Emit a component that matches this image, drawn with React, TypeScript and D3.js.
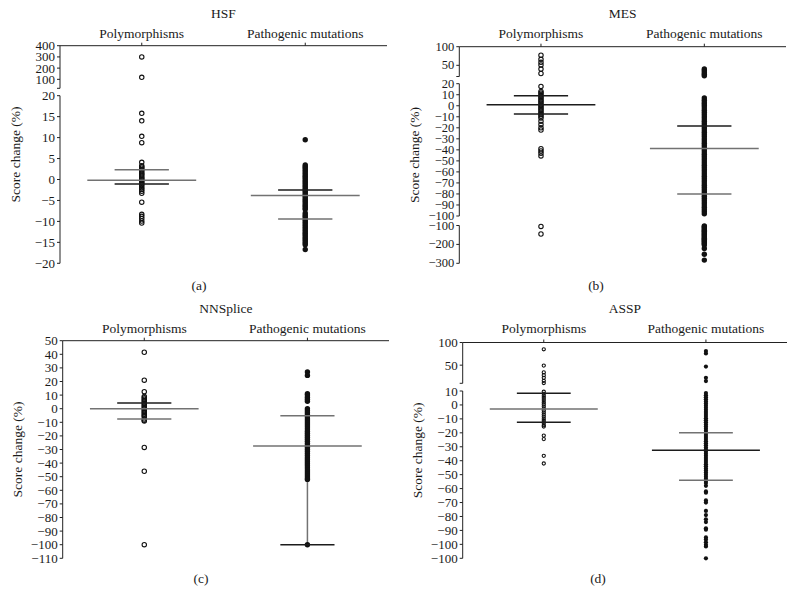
import React from 'react';
import * as d3 from 'd3';

// ---------- data ----------
const categories = ['Polymorphisms', 'Pathogenic mutations'];
const panelTitles = ['HSF', 'MES', 'NNSplice', 'ASSP'];
const panelLetters = ['(a)', '(b)', '(c)', '(d)'];
const yTitle = 'Score change (%)';

// HSF
const hsfPoly = [300, 118, 15.8, 14.0, 10.3, 8.8, 4.1, 3.3, 3.0, 2.7, 2.3, 2.0, 1.6, 1.3, 1.0, 0.6, 0.3, 0.0, -0.3, -0.6, -0.9, -1.2, -1.6, -2.0, -2.4, -2.8, -3.3, -5.4, -8.3, -8.8, -9.3, -9.9, -10.4];
const hsfPatho = [9.5, 3.5, 3.1, 2.8, 2.4, 2.0, 1.6, 1.2, 0.8, 0.4, 0.0, -0.4, -0.8, -1.2, -1.6, -2.0, -2.4, -2.8, -3.2, -3.6, -4.0, -4.4, -4.8, -5.2, -5.6, -6.0, -6.4, -6.8, -7.1, -8.0, -8.4, -8.8, -9.2, -9.6, -10.0, -10.4, -10.8, -11.2, -11.6, -12.0, -12.4, -12.8, -13.2, -13.6, -14.0, -14.4, -14.8, -15.2, -15.6, -16.7];
const hsfMean = [-0.2, -3.8];
const hsfUpper = [2.3, -2.5];
const hsfLower = [-1.1, -9.4];
const hsfSegments = [[20, 400], [-20, 20]];
const hsfTicks = [[400, 300, 200, 100], [20, 15, 10, 5, 0, -5, -10, -15, -20]];

// MES
const mesPoly = [77, 66, 58, 51, 40, 28, 17.5, 13, 11.5, 10, 8.5, 7, 5.5, 4, 2.5, 1, -0.5, -2, -3.5, -5, -6.5, -8, -9.5, -11, -14, -17, -20, -22, -39, -41, -43, -45.5, -105, -145];
const mesPatho = [40, 36, 31, 26, 22,
  7, 5, 3, 1.5, 0, -2, -4, -6, -8, -10, -12, -14, -16, -18, -20, -22, -24, -26, -28, -30, -32, -34, -36, -38, -40, -42, -44, -46, -48, -50, -52, -54, -56, -58, -60, -62, -64, -66, -68, -70, -72, -74, -76, -78, -80, -82, -84, -86, -88, -90, -92, -94, -96, -98,
  -102, -107, -113, -119, -125, -131, -137, -143, -149, -155, -161, -167, -173, -179, -185, -191, -197, -203, -222, -252, -283];
const mesMean = [1, -38.7];
const mesUpper = [9, -18.4];
const mesLower = [-7.5, -80];
const mesSegments = [[20, 100], [-100, 20], [-300, -100]];
const mesTicks = [[100, 50], [20, 10, 0, -10, -20, -30, -40, -50, -60, -70, -80, -90, -100], [-100, -200, -300]];

// NNSplice
const nnPoly = [41.5, 21, 12.5, 9, 8, 7, 6, 5, 4, 3, 2, 1, 0, -1, -2, -3, -4, -5, -6, -7.5, -8.5, -9, -28.5, -46, -100];
const nnPatho = [27, 24.5, 11, 10, 8.5, 7, 5.5, 0, -1.5, -3, -4.5, -6, -7.5, -9, -10.5, -12, -13.5, -15, -16.5, -18, -19.5, -21, -22.5, -24, -25.5, -27, -28.5, -30, -31.5, -33, -34.5, -36, -37.5, -39, -40.5, -42, -43.5, -45, -46.5, -48, -49.5, -51, -52, -100];
const nnMean = [0, -27.4];
const nnUpper = [4.2, -5.1];
const nnLower = [-7.5, -100];
const nnWhisker = [-52, -100];
const nnSegments = [[-110, 50]];
const nnTicks = [[50, 40, 30, 20, 10, 0, -10, -20, -30, -40, -50, -60, -70, -80, -90, -100, -110]];

// ASSP
const asspPoly = [85, 49, 34, 28, 22, 15.5, 10.5, 9.5, 8, 6.5, 5, 3.5, 2, 0.5, -1, -2.5, -4, -5.5, -7, -8.5, -10, -11.5, -13, -14.5, -15.5, -22, -24.5, -36.5, -42];
const asspPatho = [81, 76, 47, 22, 15,
  8.5, 7, 5.5, 4, 2.5, 1, -0.5, -2, -3.5, -5, -6.5, -8, -9.5, -11, -12.5, -14, -15.5, -17, -18.5, -20, -21.5, -23, -24.5, -26, -27.5, -29, -30.5, -32, -33.5, -35, -36.5, -38, -39.5, -41, -42.5, -44, -45.5, -47, -48.5, -50, -51.5, -53, -54.5, -56, -58,
  -62, -63, -68.5, -70, -76, -79, -82, -84, -88.5, -89.5, -95, -96.5, -98.5, -100.3, -101.5, -110];
const asspMean = [-2.9, -32.5];
const asspUpper = [8.4, -20];
const asspLower = [-12.5, -54];
const asspSegments = [[10, 100], [-110, 10]];
const asspTicks = [[100, 50], [10, 0, -10, -20, -30, -40, -50, -60, -70, -80, -90, -100, -110]];
const asspTickLabels = [['100', '50'], ['10', '0', '−10', '−20', '−30', '−40', '−50', '−60', '−70', '−80', '−90', '−100', '−100']];

// ---------- layout / style ----------
const FONT = '"Liberation Serif", "DejaVu Serif", serif';
const G = '#727272';
const K = '#1c1c1c';

const fmt = (v: number) => (v < 0 ? '−' + Math.abs(v) : String(v));

type Panel = {
  title: string; letter: string;
  axisX: number; xEnd: number;
  segRanges: number[][]; segDomains: number[][]; ticks: number[][]; tickLabels?: string[][];
  titleY: number; catY: number; letterX: number; letterY: number;
  poly: number[]; patho: number[]; mean: number[]; upper: number[]; lower: number[];
  whisker?: number[];
  polyR: number; pathoR: number; tickFont: number;
  colors: string[][];
};

const panels: Panel[] = [
  {
    title: panelTitles[0], letter: panelLetters[0], axisX: 60, xEnd: 387,
    segRanges: [[88.3, 45.7], [263.3, 95.7]], segDomains: hsfSegments, ticks: hsfTicks,
    titleY: 13.5, catY: 33.5, letterX: 199, letterY: 285.5,
    poly: hsfPoly, patho: hsfPatho, mean: hsfMean, upper: hsfUpper, lower: hsfLower,
    polyR: 2.2, pathoR: 2.7, tickFont: 13, colors: [[G, G, K], [G, K, G]],
  },
  {
    title: panelTitles[1], letter: panelLetters[1], axisX: 459.3, xEnd: 786,
    segRanges: [[76.5, 46.7], [216, 83.7], [263.3, 225.5]], segDomains: mesSegments, ticks: mesTicks,
    titleY: 13.5, catY: 33.5, letterX: 596, letterY: 285.5,
    poly: mesPoly, patho: mesPatho, mean: mesMean, upper: mesUpper, lower: mesLower,
    polyR: 2.2, pathoR: 2.7, tickFont: 12.5, colors: [[K, K, K], [G, K, G]],
  },
  {
    title: panelTitles[2], letter: panelLetters[2], axisX: 62.7, xEnd: 389,
    segRanges: [[558.3, 340.7]], segDomains: nnSegments, ticks: nnTicks,
    titleY: 308.5, catY: 328.5, letterX: 201, letterY: 578.5,
    poly: nnPoly, patho: nnPatho, mean: nnMean, upper: nnUpper, lower: nnLower, whisker: nnWhisker,
    polyR: 2.2, pathoR: 2.7, tickFont: 13, colors: [[G, K, G], [G, G, K]],
  },
  {
    title: panelTitles[3], letter: panelLetters[3], axisX: 462.7, xEnd: 787,
    segRanges: [[383.3, 342.5], [558.3, 391]], segDomains: asspSegments, ticks: asspTicks, tickLabels: asspTickLabels,
    titleY: 308.5, catY: 328.5, letterX: 598, letterY: 578.5,
    poly: asspPoly, patho: asspPatho, mean: asspMean, upper: asspUpper, lower: asspLower,
    polyR: 1.6, pathoR: 2.1, tickFont: 13, colors: [[G, K, K], [K, G, G]],
  },
];

function PanelView({ p }: { p: Panel }) {
  const x = d3.scaleBand<string>().domain(categories).range([p.axisX, p.xEnd]).padding(0);
  const bw = x.bandwidth();
  const cx = (c: string) => (x(c) as number) + bw / 2;
  const scales = p.segDomains.map((d, i) => d3.scaleLinear().domain(d).range(p.segRanges[i]));
  const y = (v: number) => {
    for (let i = 0; i < p.segDomains.length; i++) {
      const [lo, hi] = p.segDomains[i];
      if (v >= lo && v <= hi) return scales[i](v);
    }
    return scales[scales.length - 1](v);
  };
  const topY = p.segRanges[0][1];
  const yMid = (topY + p.segRanges[p.segRanges.length - 1][0]) / 2;
  const series = [p.poly, p.patho];
  return (
    <g>
      <text x={(p.axisX + p.xEnd) / 2} y={p.titleY} textAnchor="middle" dominantBaseline="central" fontSize={13.5}>{p.title}</text>
      {categories.map((c) => (
        <text key={c} x={cx(c)} y={p.catY} textAnchor="middle" dominantBaseline="central" fontSize={13.5}>{c}</text>
      ))}
      <line x1={p.axisX} x2={p.xEnd} y1={topY} y2={topY} stroke="#222" strokeWidth={1} />
      {categories.map((c) => (
        <line key={c} x1={cx(c)} x2={cx(c)} y1={topY} y2={topY - 3} stroke="#222" strokeWidth={1} />
      ))}
      {scales.map((s, i) => {
        const r = p.segRanges[i];
        const ticks = p.ticks[i];
        const labels = p.tickLabels ? p.tickLabels[i] : ticks.map(fmt);
        const endTick = i < scales.length - 1 && !ticks.includes(p.segDomains[i][0]);
        return (
          <g key={i}>
            <line x1={p.axisX} x2={p.axisX} y1={r[1]} y2={r[0]} stroke="#222" strokeWidth={1} />
            {ticks.map((t, j) => (
              <g key={j}>
                <line x1={p.axisX - 3} x2={p.axisX} y1={s(t)} y2={s(t)} stroke="#222" strokeWidth={1} />
                <text x={p.axisX - 5} y={s(t)} textAnchor="end" dominantBaseline="central" fontSize={p.tickFont}>{labels[j]}</text>
              </g>
            ))}
            {endTick && (
              <line x1={p.axisX - 3} x2={p.axisX} y1={r[0]} y2={r[0]} stroke="#222" strokeWidth={1} />
            )}
          </g>
        );
      })}
      <text transform={`translate(${p.axisX - 45},${yMid}) rotate(-90)`} textAnchor="middle" dominantBaseline="central" fontSize={13.5}>{yTitle}</text>
      {p.whisker && (
        <line x1={cx(categories[1])} x2={cx(categories[1])} y1={y(p.whisker[0])} y2={y(p.whisker[1])} stroke={G} strokeWidth={1.5} />
      )}
      {series.map((vals, ci) => (
        <g key={ci}>
          {vals.map((v, k) => (
            ci === 0 ? (
              <circle key={k} cx={cx(categories[ci])} cy={y(v)} r={p.polyR} fill="none" stroke="#111" strokeWidth={1.1} />
            ) : (
              <circle key={k} cx={cx(categories[ci])} cy={y(v)} r={p.pathoR} fill="#111" />
            )
          ))}
        </g>
      ))}
      {categories.map((c, ci) => {
        const m = cx(c);
        const wl = bw * 0.333;
        const ws = bw * 0.166;
        return (
          <g key={c}>
            <line x1={m - wl} x2={m + wl} y1={y(p.mean[ci])} y2={y(p.mean[ci])} stroke={p.colors[ci][0]} strokeWidth={1.5} />
            <line x1={m - ws} x2={m + ws} y1={y(p.upper[ci])} y2={y(p.upper[ci])} stroke={p.colors[ci][1]} strokeWidth={1.5} />
            <line x1={m - ws} x2={m + ws} y1={y(p.lower[ci])} y2={y(p.lower[ci])} stroke={p.colors[ci][2]} strokeWidth={1.5} />
          </g>
        );
      })}
      <text x={p.letterX} y={p.letterY} textAnchor="middle" dominantBaseline="central" fontSize={13.5}>{p.letter}</text>
    </g>
  );
}

export default function App() {
  return (
    <svg width={797} height={606} style={{ position: 'absolute', left: 0, top: 0, background: '#fff' }}
      fontFamily={FONT} fill="#1a1a1a">
      <rect x={0} y={0} width={797} height={606} fill="#fff" />
      {panels.map((p, i) => <PanelView key={i} p={p} />)}
    </svg>
  );
}
